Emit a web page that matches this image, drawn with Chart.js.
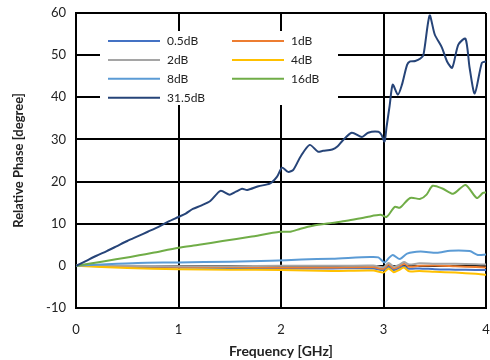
<!DOCTYPE html>
<html>
<head>
<meta charset="utf-8">
<script src="https://cdn.jsdelivr.net/npm/chart.js@4"></script>
<style>
html,body{margin:0;padding:0;background:#fff;}
#wrap{width:490px;height:360px;position:relative;}
</style>
</head>
<body>
<div id="wrap"><canvas id="c" width="490" height="360"></canvas></div>
<script>
const seriesLabels = ['0.5dB','1dB','2dB','4dB','8dB','16dB','31.5dB'];
const seriesColors = ['#4472C4','#ED7D31','#A5A5A5','#FFC000','#5B9BD5','#70AD47','#264478'];
const xTicks = [0,1,2,3,4];
const yTicks = [-10,0,10,20,30,40,50,60];

// small-signal series share a frequency grid
const fLow = [0,0.5,1.0,1.5,2.0,2.5,2.9,3.0,3.05,3.1,3.15,3.2,3.25,3.35,3.5,3.7,3.9,4.0];
const p05  = [0,-0.2,-0.4,-0.5,-0.6,-0.6,-0.6,-1.0,-0.2,-1.0,-0.5,-0.1,-0.7,-0.6,-0.8,-0.9,-1.0,-1.0];
const p1   = [0,-0.1,-0.2,-0.3,-0.4,-0.4,-0.3,-0.7,0.3,-0.6,-0.2,0.5,-0.2,0.0,0.1,-0.1,-0.3,-0.4];
const p2   = [0,0.0,-0.1,-0.1,0.0,0.0,0.1,-0.3,0.7,-0.2,0.2,0.9,0.3,0.6,0.5,0.5,0.4,0.3];
const p4   = [0,-0.5,-0.8,-0.9,-1.0,-1.2,-1.1,-1.6,-0.6,-1.5,-1.0,-0.4,-1.3,-1.2,-1.4,-1.6,-1.9,-2.1];

const f8 = [0,0.3,0.6,1.0,1.5,1.9,2.2,2.5,2.87,2.95,3.01,3.05,3.09,3.16,3.23,3.36,3.52,3.65,3.84,3.92,4.0];
const p8 = [0,0.4,0.7,0.8,1.0,1.2,1.5,1.7,2.1,2.0,0.8,1.8,2.6,1.6,2.9,3.4,3.1,3.6,3.5,2.6,2.7];

const f16 = [0,0.25,0.53,0.75,1.0,1.2,1.43,1.7,1.99,2.09,2.19,2.31,2.5,2.64,2.84,2.97,3.03,3.11,3.16,3.26,3.36,3.42,3.48,3.58,3.68,3.80,3.91,3.97,4.0];
const p16 = [0,1.0,2.1,3.1,4.3,5.0,5.9,6.9,8.1,8.1,8.8,9.5,10.2,10.7,11.6,12.1,11.6,14.0,13.8,16.1,15.9,16.9,19.0,18.3,17.1,19.2,16.1,17.3,17.4];

const f315 = [0,0.1,0.2,0.3,0.4,0.5,0.6,0.7,0.8,0.9,1.0,1.07,1.14,1.22,1.31,1.41,1.50,1.56,1.62,1.67,1.78,1.89,1.96,2.01,2.07,2.12,2.19,2.28,2.36,2.41,2.50,2.55,2.60,2.69,2.79,2.85,2.95,2.98,3.01,3.03,3.06,3.09,3.14,3.18,3.23,3.26,3.31,3.36,3.39,3.45,3.50,3.57,3.62,3.67,3.73,3.80,3.84,3.89,3.96,4.0];
const p315 = [0,1.2,2.4,3.5,4.7,5.9,7.0,8.1,9.2,10.5,11.6,12.4,13.5,14.3,15.4,17.8,16.9,17.6,18.3,18.0,18.9,19.5,21.1,23.3,22.3,22.8,25.9,28.7,27.1,27.3,27.6,28.3,29.7,31.6,30.6,31.6,31.8,31.1,29.5,33.0,38.0,43.0,40.6,43.0,47.7,48.5,48.6,49.2,50.1,59.4,54.9,51.8,48.5,47.0,52.5,53.9,47.0,40.9,48.2,48.5];

function pts(xs, ys){ return xs.map((x,i)=>({x:x, y:ys[i]})); }

const seriesData = [pts(fLow,p05), pts(fLow,p1), pts(fLow,p2), pts(fLow,p4), pts(f8,p8), pts(f16,p16), pts(f315,p315)];

const FONT = 'Lato, "Liberation Sans", sans-serif';

const legendPlugin = {
  id: 'boxLegend',
  beforeDatasetsDraw(chart){
    const ctx = chart.ctx;
    ctx.save();
    ctx.fillStyle = '#fff';
    ctx.fillRect(100, 31, 238, 74);
    ctx.restore();
  },
  afterDatasetsDraw(chart){
    const ctx = chart.ctx;
    const ds = chart.data.datasets;
    ctx.save();
    ctx.font = '12px ' + FONT;
    ctx.textBaseline = 'middle';
    ctx.textAlign = 'left';
    ds.forEach((d,i)=>{
      const col = i % 2, row = Math.floor(i/2);
      const x0 = col === 0 ? 108 : 232;
      const y0 = 41 + row*18.9;
      ctx.strokeStyle = d.borderColor;
      ctx.lineWidth = 2;
      ctx.beginPath(); ctx.moveTo(x0, y0); ctx.lineTo(x0+52, y0); ctx.stroke();
      ctx.fillStyle = '#222';
      ctx.fillText(d.label, x0+59, y0);
    });
    ctx.restore();
  }
};

new Chart(document.getElementById('c'), {
  type: 'line',
  data: {
    datasets: seriesLabels.map((lab,i)=>({
      label: lab,
      data: seriesData[i],
      borderColor: seriesColors[i],
      backgroundColor: seriesColors[i],
      borderWidth: 2,
      pointRadius: 0,
      tension: 0.25,
      fill: false,
      order: seriesLabels.length - i
    }))
  },
  options: {
    responsive: false,
    animation: false,
    layout: { padding: { top: 13, right: 4, left: 0, bottom: 0 } },
    plugins: { legend: { display: false }, tooltip: { enabled: false } },
    scales: {
      x: {
        type: 'linear', min: 0, max: 4,
        afterBuildTicks(s){ s.ticks = xTicks.map(v=>({value:v})); },
        afterFit(s){ s.height = 52; s.paddingRight = 0; s.paddingLeft = 0; },
        grid: { color: '#000', lineWidth: 2, drawTicks: false },
        border: { color: '#000', width: 2 },
        ticks: { color: '#222', font: { family: FONT, size: 13 }, padding: 14, maxRotation: 0 },
        title: { display: true, text: 'Frequency [GHz]', color: '#222', font: { family: FONT, size: 14, weight: 'bold' }, padding: { top: 2, bottom: 0 } }
      },
      y: {
        type: 'linear', min: -10, max: 60,
        afterBuildTicks(s){ s.ticks = yTicks.map(v=>({value:v})); },
        afterFit(s){ s.width = 76; s.paddingTop = 0; s.paddingBottom = 0; },
        grid: { color: '#000', lineWidth: 2, drawTicks: false },
        border: { color: '#000', width: 2 },
        ticks: { color: '#222', font: { family: FONT, size: 13 }, padding: 10 },
        title: { display: true, text: 'Relative Phase [degree]', color: '#222', font: { family: FONT, size: 13, weight: 'bold' }, padding: { top: 11, bottom: 0 } }
      }
    }
  },
  plugins: [legendPlugin]
});
</script>
</body>
</html>
